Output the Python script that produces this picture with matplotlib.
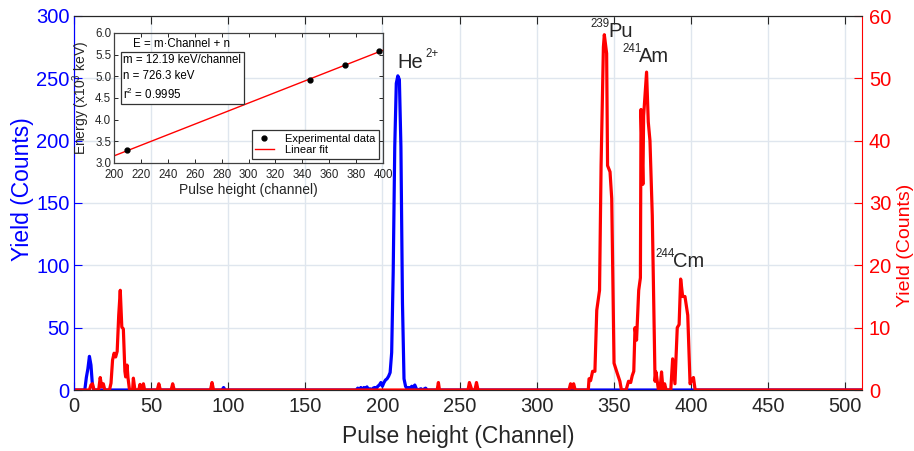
import matplotlib
matplotlib.use("Agg")
import matplotlib.pyplot as plt
import numpy as np

plt.rcParams['font.family'] = ['Liberation Sans', 'DejaVu Sans']
plt.rcParams['mathtext.fontset'] = 'custom'
plt.rcParams['mathtext.rm'] = 'Liberation Sans'
plt.rcParams['mathtext.it'] = 'Liberation Sans:italic'

# ---------------- data ----------------
blue_ch = [0, 7, 8, 9, 10, 11, 12, 13, 96, 97, 98,
           183, 184, 185, 186, 187, 188, 189, 190, 191, 192, 193, 194, 195, 196, 197, 198, 199,
           200, 201, 202, 203, 204, 205, 206, 207, 208, 209, 210, 211, 212, 213, 214, 215,
           216, 217, 218, 219, 220, 221, 222, 223, 225, 226, 228, 229, 511]
blue_counts = [0, 0, 10, 17, 27, 20, 3, 0, 0, 2, 0,
               0, 1.5, 0, 2, 0, 2, 1, 2.5, 0, 1, 0, 1.5, 2, 1, 3, 4, 6,
               3, 6, 8, 9, 11, 14, 30, 95, 195, 246, 252, 249, 195, 70, 9, 3,
               1, 2, 1, 3, 2, 4, 1, 0, 1, 0, 1.5, 0, 0]

red_ch = [0, 10, 11, 12, 13, 16, 17, 18, 19, 20, 23, 24, 25, 26, 27, 28, 29, 30, 31, 32, 33,
          33.5, 34.4, 35, 36, 38, 38.5, 39.5, 42, 42.8, 43.5, 44.5, 45, 45.8, 54, 55, 56, 63, 64, 65,
          88.5, 89.5, 90.5, 235.5, 236.3, 237, 255.5, 256.4, 258, 260, 261, 262,
          321, 322, 323, 324, 325, 333.5, 334, 335, 336.3, 337.8, 339, 340.8, 341.8, 343.3, 343.9,
          345.4, 346, 347.6, 348.7, 350.2, 352, 354, 355, 358, 359.6, 361, 362, 363, 363.8, 364.8,
          366.2, 367.3, 367.7, 368.9, 369.4, 371.3, 372.4, 373.5, 375, 376.8, 377.4, 379, 380,
          381, 382, 383, 384, 387, 388.2, 389.7, 391.2, 392.4, 393.4, 394.7, 396.2, 398, 399.5,
          400.6, 401.7, 402.8, 511]
red_counts = [0, 0, 0.8, 1, 0, 0, 2, 0.5, 1, 0, 0, 1.1, 4.8, 5.9, 5.3, 6.2, 12, 16, 10.1, 9.8, 3,
              2.1, 4, 2, 0, 0, 1.9, 0, 0, 0.9, 0, 0, 1, 0, 0, 1, 0, 0, 1, 0,
              0, 1.2, 0, 0, 1.2, 0, 0, 1.2, 0, 0, 1.2, 0,
              0, 1, 0.3, 1, 0, 0, 1.8, 1.5, 3, 3, 12.8, 16, 36, 55, 57,
              54, 36, 35, 30.7, 4.3, 2.9, 1.4, 0, 0, 1.4, 1.2, 2.3, 3, 10, 8,
              16, 18, 45, 33, 44, 51, 43, 40, 28, 1.4, 2.9, 0, 0,
              2.9, 0, 1, 0, 0, 5, 1, 10, 10.5, 17.8, 15, 15, 12, 1,
              1.6, 2, 0, 0]

exp_channel = [210, 346, 372, 397]
exp_energy = [3.30, 4.92, 5.25, 5.58]
fit_slope = 12.19      # keV/channel
fit_intercept = 726.3  # keV
fit_r2 = 0.9995

x_ticks = list(range(0, 501, 50))
left_ticks = list(range(0, 301, 50))
right_ticks = list(range(0, 61, 10))
inset_xticks = list(range(200, 401, 20))
inset_yticks = [3.0, 3.5, 4.0, 4.5, 5.0, 5.5, 6.0]

# peak labels: (main text, superscript, x of superscript, baseline of sup, x of main, baseline of main)
peak_labels = [
    ('He', '2+', 227.6, 267.1, 209.5, 258.3),
    ('Pu', '239', 334.6, 291.2, 346.3, 283.1),
    ('Am', '241', 355.4, 271.1, 366.4, 263.1),
    ('Cm', '244', 376.8, 106.7, 388.5, 98.7),
]

# ---------------- figure ----------------
BLUE = '#0000ff'
RED = '#ff0000'
DARK = '#262626'
GRID = '#dfe6ee'

fig = plt.figure(figsize=(9.14, 4.51), dpi=100)
ax = fig.add_axes([74/914, 1-390/451, 788/914, 374/451])
ax.plot(blue_ch, blue_counts, color=BLUE, lw=2.3, solid_joinstyle='round')
ax.set_xlim(0, 511)
ax.set_ylim(0, 300)
ax.set_xticks(x_ticks)
ax.set_yticks(left_ticks)
ax.grid(True, color=GRID, lw=1.0)
ax.set_axisbelow(True)
ax.tick_params(axis='x', direction='in', top=True, bottom=True, length=6, width=0.8,
               colors=DARK, labelsize=14.5, pad=5)
ax.tick_params(axis='y', direction='in', length=6, width=0.8, colors=BLUE,
               labelcolor=BLUE, labelsize=14.5, pad=3)
for s in ['top', 'bottom']:
    ax.spines[s].set_color(DARK)
    ax.spines[s].set_linewidth(0.8)
ax.spines['left'].set_color(BLUE)
ax.spines['right'].set_visible(False)

ax2 = ax.twinx()
ax2.plot(red_ch, red_counts, color=RED, lw=2.3, solid_joinstyle='round')
ax2.set_ylim(0, 60)
ax2.set_yticks(right_ticks)
ax2.tick_params(axis='y', direction='in', length=6, width=0.8, colors=RED,
                labelcolor=RED, labelsize=14.5, pad=5)
ax2.spines['right'].set_color(RED)
ax2.spines['left'].set_color(BLUE)
for s in ['top', 'bottom']:
    ax2.spines[s].set_color(DARK)
    ax2.spines[s].set_linewidth(0.8)

fig.text(458/914, 1-436/451, 'Pulse height (Channel)', ha='center', va='center',
         fontsize=16.5, color=DARK)
fig.text(22/914, 1-189/451, 'Yield (Counts)', ha='center', va='center', rotation=90,
         fontsize=16.5, color=BLUE)
fig.text(914/914, 1-245/451, 'Yield (Counts)', ha='right', va='center', rotation=90,
         fontsize=14, color=RED)

# peak annotations
for main, sup, xs, ys, xm, ym in peak_labels:
    ax.text(xm, ym, main, fontsize=14.5, color=DARK, ha='left', va='baseline')
    ax.text(xs, ys, sup, fontsize=8.3, color=DARK, ha='left', va='baseline')

# ---------------- inset ----------------
axin = fig.add_axes([114/914, 1-163/451, 269/914, 130/451])
axin.set_facecolor('none')
fit_x = np.array([200, 400])
fit_y = (fit_slope*fit_x + fit_intercept)/1000.0
axin.plot(fit_x, fit_y, color=RED, lw=1.0, label='Linear fit')
axin.plot(exp_channel, exp_energy, 'o', color='black', ms=3.5, label='Experimental data')
axin.set_xlim(200, 400)
axin.set_ylim(3.0, 6.0)
axin.set_xticks(inset_xticks)
axin.set_yticks(inset_yticks)
axin.set_yticklabels([f'{v:.1f}' for v in inset_yticks])
axin.tick_params(direction='in', top=True, right=True, length=3, width=0.7,
                 colors=DARK, labelsize=8.3)
axin.tick_params(axis='x', pad=4.5)
axin.tick_params(axis='y', pad=2)
for s in axin.spines.values():
    s.set_color('#404040')
    s.set_linewidth(0.9)
axin.set_xlabel('Pulse height (channel)', fontsize=10, color=DARK, labelpad=1.5)
axin.set_ylabel(r'Energy (x10$\mathregular{^{3}}$ keV)', fontsize=10, color=DARK, labelpad=2)

axin.text(0.07, 0.96, 'E = m\u00b7Channel + n', transform=axin.transAxes, fontsize=8.3,
          color='black', ha='left', va='top')
axin.text(0.035, 0.835,
          f'm = {fit_slope:.2f} keV/channel\nn = {fit_intercept:.1f} keV\n'
          + r'r$\mathregular{^{2}}$' + f' = {fit_r2:.4f}',
          transform=axin.transAxes, fontsize=8.3, color='black', ha='left', va='top',
          linespacing=1.4,
          bbox=dict(boxstyle='square,pad=0.2', fc='white', ec='#333333', lw=0.9))
h, l = axin.get_legend_handles_labels()
leg = axin.legend([h[1], h[0]], [l[1], l[0]], loc='lower right', fontsize=8,
                  frameon=True, fancybox=False, edgecolor='#333333', framealpha=1,
                  borderpad=0.3, labelspacing=0.15, handlelength=1.7, handletextpad=1.0,
                  borderaxespad=0.4)
leg.get_frame().set_linewidth(0.9)

fig.savefig('out.png', dpi=100)
